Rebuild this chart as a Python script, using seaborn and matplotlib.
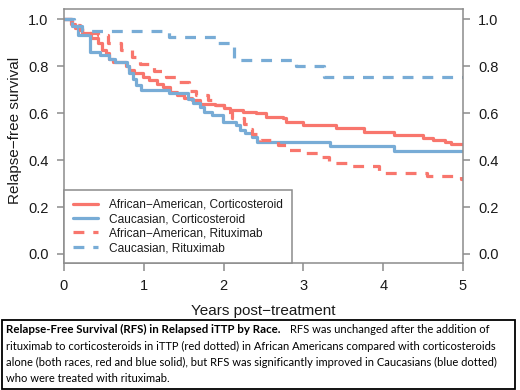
import matplotlib
matplotlib.use("Agg")
import matplotlib.pyplot as plt
from matplotlib.lines import Line2D
from matplotlib.patches import Rectangle
import pandas as pd
import seaborn as sns

# step curves (years post-treatment, relapse-free survival)
aa_cs_years = [0, 0.09, 0.14, 0.22, 0.34, 0.42, 0.48, 0.53, 0.57, 0.62, 0.78, 0.82, 0.88, 0.99,
               1.07, 1.16, 1.24, 1.33, 1.41, 1.50, 1.60, 1.70, 1.89, 2.00, 2.08, 2.24, 2.41,
               2.53, 2.74, 2.78, 2.99, 3.41, 3.76, 4.13, 4.50, 4.62, 4.78, 4.85]
aa_cs_rfs = [1.0, 0.98, 0.96, 0.94, 0.92, 0.90, 0.87, 0.855, 0.83, 0.815, 0.80, 0.785, 0.77, 0.755,
             0.74, 0.725, 0.71, 0.69, 0.675, 0.665, 0.655, 0.64, 0.634, 0.62, 0.613, 0.605, 0.598,
             0.584, 0.577, 0.562, 0.548, 0.535, 0.52, 0.507, 0.495, 0.486, 0.477, 0.467]

ca_cs_years = [0, 0.10, 0.17, 0.33, 0.45, 0.57, 0.64, 0.79, 0.82, 0.86, 0.90, 0.97, 1.32, 1.55,
               1.62, 1.70, 1.76, 1.85, 1.99, 2.16, 2.20, 2.27, 2.35, 2.42, 3.33, 4.13]
ca_cs_rfs = [1.0, 0.97, 0.93, 0.86, 0.845, 0.83, 0.818, 0.80, 0.77, 0.745, 0.72, 0.70, 0.684, 0.658,
             0.641, 0.627, 0.606, 0.59, 0.563, 0.549, 0.528, 0.514, 0.499, 0.478, 0.46, 0.44]

aa_rtx_years = [0, 0.10, 0.20, 0.30, 0.42, 0.55, 0.72, 0.85, 0.95, 1.13, 1.28, 1.42, 1.57, 1.65,
                1.80, 1.90, 2.00, 2.10, 2.25, 2.30, 2.35, 2.45, 2.68, 2.80, 3.00, 3.18, 3.32,
                3.60, 3.95, 4.55, 4.98]
aa_rtx_rfs = [1.0, 0.975, 0.953, 0.94, 0.93, 0.90, 0.87, 0.84, 0.81, 0.78, 0.755, 0.73, 0.695, 0.677,
              0.655, 0.634, 0.605, 0.58, 0.555, 0.53, 0.51, 0.486, 0.465, 0.443, 0.428, 0.411, 0.386,
              0.376, 0.346, 0.332, 0.32]

ca_rtx_years = [0, 0.12, 0.22, 1.32, 1.93, 2.13, 2.91, 3.26]
ca_rtx_rfs = [1.0, 0.97, 0.949, 0.925, 0.897, 0.826, 0.80, 0.755]

groups = ["African\u2212American, Corticosteroid", "Caucasian, Corticosteroid",
          "African\u2212American, Rituximab", "Caucasian, Rituximab"]
y_ticks = [0.0, 0.2, 0.4, 0.6, 0.8, 1.0]
x_ticks = [0, 1, 2, 3, 4, 5]

RED = "#f8766d"
BLUE = "#78acd6"
GRID = "#8c8c8c"
INK = "#1a1a1a"

palette = {groups[0]: RED, groups[1]: BLUE, groups[2]: RED, groups[3]: BLUE}
dash_pat = (3.4, 2.8)
dashes = {groups[0]: "", groups[1]: "", groups[2]: dash_pat, groups[3]: dash_pat}

# long table, each curve carried out to 5 years
frames = []
for name, yrs, rfs in zip(groups,
                          [aa_cs_years, ca_cs_years, aa_rtx_years, ca_rtx_years],
                          [aa_cs_rfs, ca_cs_rfs, aa_rtx_rfs, ca_rtx_rfs]):
    frames.append(pd.DataFrame({"years": yrs + [5.0], "rfs": rfs + [rfs[-1]], "group": name}))
df = pd.concat(frames, ignore_index=True)

sns.set_style("white")
plt.rcParams["font.family"] = ["Liberation Sans", "DejaVu Sans"]

fig = plt.figure(figsize=(5.2, 3.9), dpi=100)
W, H = 520, 390
ax = fig.add_axes([64 / W, 1 - 263 / H, (463 - 64) / W, (263 - 9) / H])

sns.lineplot(data=df, x="years", y="rfs", hue="group", style="group",
             palette=palette, dashes=dashes, drawstyle="steps-post",
             estimator=None, sort=False, linewidth=2.3, legend=False, ax=ax)

ax.set_xlim(0, 5)
ax.set_ylim(-0.0383, 1.0426)
ax.set_xticks(x_ticks)
ax.set_xticklabels([str(v) for v in x_ticks])
ax.set_yticks(y_ticks)
ax.set_yticklabels([f"{v:.1f}" for v in y_ticks])
ax.tick_params(axis="y", left=True, right=True, labelleft=True, labelright=True,
               length=5, width=1.1, color=GRID, pad=6, labelsize=10.5, labelcolor=INK)
ax.tick_params(axis="x", bottom=True, length=5.5, width=1.1, color=GRID, pad=6,
               labelsize=10.5, labelcolor=INK)
for sp in ax.spines.values():
    sp.set_visible(True)
    sp.set_color(GRID)
    sp.set_linewidth(1.1)

ax.set_xlabel("Years post\u2212treatment", fontsize=11, color=INK, labelpad=8)
ax.set_ylabel("Relapse\u2212free survival", fontsize=11, color=INK)
ax.yaxis.set_label_coords(-0.105, 0.52)

handles = []
for g in groups:
    h = Line2D([], [], color=palette[g], lw=2.3)
    if dashes[g]:
        h.set_dashes(dashes[g])
    handles.append(h)
leg = ax.legend(handles, groups, loc="lower left", bbox_to_anchor=(0, 0),
                borderaxespad=0, frameon=True, fancybox=False, framealpha=1,
                edgecolor=GRID, fontsize=8.6, handlelength=2.1, handletextpad=0.9,
                borderpad=0.75, labelspacing=0.2)
leg.get_frame().set_linewidth(1.1)
for t in leg.get_texts():
    t.set_color(INK)

# caption box under the chart
fig.add_artist(Rectangle((2 / W, 1 / H), (515 - 2) / W, (389 - 320) / H,
                         transform=fig.transFigure, fill=False, edgecolor="black", lw=1.3))

cap_font = ["Lato", "DejaVu Sans"]
cap_size = 8.0
cap_x = 6 / W
line_y = [329.5, 346, 362.5, 378.5]
bold = fig.text(cap_x, 1 - line_y[0] / H, "Relapse-Free Survival (RFS) in Relapsed iTTP by Race.",
                fontsize=cap_size + 0.3, fontweight="bold", family=cap_font, va="center", color="black")
fig.canvas.draw()
bb = bold.get_window_extent(fig.canvas.get_renderer())
fig.text((bb.x1 + 10) / W, 1 - line_y[0] / H, "RFS was unchanged after the addition of",
         fontsize=cap_size, family=cap_font, va="center", color="black")
rest = ["rituximab to corticosteroids in iTTP (red dotted) in African Americans compared with corticosteroids",
        "alone (both races, red and blue solid), but RFS was significantly improved in Caucasians (blue dotted)",
        "who were treated with rituximab."]
for yy, line in zip(line_y[1:], rest):
    fig.text(cap_x, 1 - yy / H, line, fontsize=cap_size, family=cap_font, va="center", color="black")

fig.savefig("out.png", dpi=100, facecolor="white")
